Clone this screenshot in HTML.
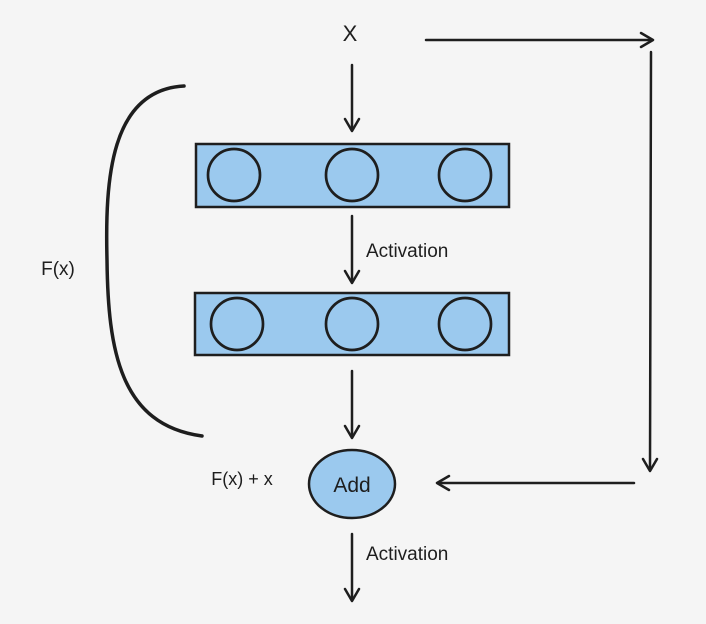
<!DOCTYPE html>
<html><head><meta charset="utf-8"><style>
html,body{margin:0;padding:0;background:#f5f5f5;}
svg{display:block;}
text{font-family:"Liberation Sans",sans-serif;fill:#1e1e1e;}
</style></head><body>
<svg width="706" height="624" viewBox="0 0 706 624" xmlns="http://www.w3.org/2000/svg">
<rect width="706" height="624" fill="#f5f5f5"/>
<g stroke="#1e1e1e" stroke-width="2.5" fill="none" stroke-linecap="round" stroke-linejoin="round">
<line x1="352" y1="65" x2="352" y2="130"/><polyline points="345,119 352,131 359,119"/>
<line x1="352" y1="216" x2="352" y2="282"/><polyline points="345,271 352,283 359,271"/>
<line x1="352" y1="371" x2="352" y2="437"/><polyline points="345,426 352,438 359,426"/>
<line x1="352" y1="534" x2="352" y2="600"/><polyline points="345,589 352,601 359,589"/>
<line x1="426" y1="40" x2="652" y2="40"/><polyline points="641,33 653,40 641,47"/>
<line x1="651" y1="52" x2="650" y2="470"/><polyline points="643,459 650,471 657,459"/>
<line x1="634" y1="483" x2="438" y2="483"/><polyline points="449,476 437,483 449,490"/>
<path d="M184,86 C110,90 105,180 107,260 C108,350 120,425 202,436" stroke-width="3.5"/>
</g>
<g stroke="#1e1e1e" stroke-width="2.5" fill="#9bc9ee">
<rect x="196" y="144" width="313" height="63"/>
<rect x="195" y="293" width="314" height="62"/>
<ellipse cx="352" cy="484" rx="43" ry="34"/>
</g>
<g stroke="#1e1e1e" stroke-width="2.7" fill="none">
<circle cx="234" cy="175" r="26"/><circle cx="352" cy="175" r="26"/><circle cx="465" cy="175" r="26"/>
<circle cx="237" cy="324" r="26"/><circle cx="352" cy="324" r="26"/><circle cx="465" cy="324" r="26"/>
</g>
<text x="350" y="41" font-size="22" text-anchor="middle">X</text>
<text x="58" y="275" font-size="19" text-anchor="middle">F(x)</text>
<text x="242" y="485" font-size="18" text-anchor="middle">F(x) + x</text>
<text x="352" y="492" font-size="21" text-anchor="middle">Add</text>
<text x="366" y="257" font-size="19">Activation</text>
<text x="366" y="560" font-size="19">Activation</text>
</svg>
</body></html>
